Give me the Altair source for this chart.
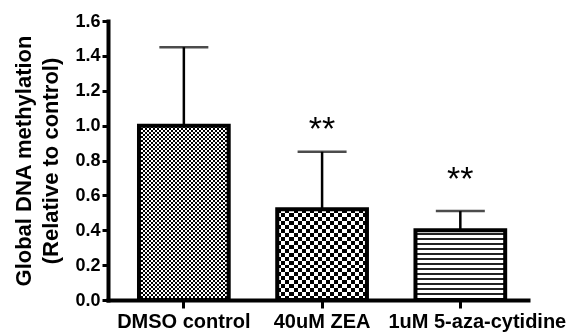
import altair as alt
import pandas as pd

# ---- data ----
categories = ["DMSO control", "40uM ZEA", "1uM 5-aza-cytidine"]
means = [1.00, 0.52, 0.40]
sem_upper = [0.45, 0.33, 0.11]
star_text = ["", "**", "**"]
star_level = [None, 0.92, 0.63]
y_ticks = [0.0, 0.2, 0.4, 0.6, 0.8, 1.0, 1.2, 1.4, 1.6]

df = pd.DataFrame({
    "cat": categories,
    "mean": means,
    "upper": [m + e for m, e in zip(means, sem_upper)],
    "star": star_text,
    "star_y": star_level,
})

W, H = 420, 279
FONT = "Liberation Sans"


def stripes(n, c1, c2, along_x, duty=0.5):
    stops = []
    if duty == 0.5:
        for i in range(n):
            c = c1 if i % 2 == 0 else c2
            stops.append(alt.GradientStop(offset=i / n, color=c))
            stops.append(alt.GradientStop(offset=(i + 1) / n, color=c))
    else:
        for i in range(n):
            a = i / n
            b = (i + duty) / n
            e = (i + 1) / n
            stops += [alt.GradientStop(offset=a, color=c1), alt.GradientStop(offset=b, color=c1),
                      alt.GradientStop(offset=b, color=c2), alt.GradientStop(offset=e, color=c2)]
    if along_x:
        return alt.LinearGradient(gradient="linear", stops=stops, x1=0, y1=0, x2=1, y2=0)
    return alt.LinearGradient(gradient="linear", stops=stops, x1=0, y1=0, x2=0, y2=1)


x_enc = alt.X(
    "cat:N", sort=categories, title=None,
    scale=alt.Scale(paddingInner=0.351, paddingOuter=0.1946, align=0.576),
    axis=alt.Axis(
        labelAngle=0, labelFontSize=20, labelFontWeight="bold", labelColor="black",
        labelFont=FONT, labelPadding=3, tickSize=8, tickWidth=3, tickColor="black",
        domainWidth=4, domainColor="black", domainCap="square", labelOverlap=False,
        labelOffset={"condition": {"test": "datum.value == '1uM 5-aza-cytidine'", "value": 17}, "value": 0},
    ),
)

y_scale = alt.Scale(domain=[0, 1.6], nice=False, zero=True)
y_axis = alt.Axis(
    values=y_ticks, format=".1f", grid=False, labelOverlap=False, tickCount=9,
    title=["Global DNA methylation", "(Relative to control)"],
    titleFontSize=22, titleFontWeight="bold", titleFont=FONT, titleColor="black",
    titleLineHeight=27, titlePadding=12,
    labelFontSize=18, labelFontWeight="bold", labelFont=FONT, labelColor="black",
    labelPadding=2, tickSize=6, tickWidth=3, tickColor="black",
    domainWidth=4, domainColor="black", domainCap="square",
)


def yq(field):
    return alt.Y(field, type="quantitative", scale=y_scale, axis=y_axis)


base = alt.Chart(df).encode(x=x_enc)

# pattern geometry (cells in pixels)
px_per_unit = H / 1.6
bar_px = 89.7

d_cols = round(bar_px / 2)
d_rows = round(means[0] * px_per_unit / 2)
z_cols = round(bar_px / 4)
z_rows = round(means[1] * px_per_unit / 4)
a_lines = round(means[2] * px_per_unit / 5)

layers = []
for cat, ncol, nrow in [(categories[0], d_cols, d_rows), (categories[1], z_cols, z_rows)]:
    f = base.transform_filter(alt.datum.cat == cat)
    layers.append(f.mark_bar(fill=stripes(ncol, "black", "white", True)).encode(y=yq("mean")))
    layers.append(f.mark_bar(fill=stripes(nrow, "black", "white", False), blend="difference").encode(y=yq("mean")))

fa = base.transform_filter(alt.datum.cat == categories[2])
layers.append(fa.mark_bar(fill=stripes(a_lines, "white", "#222222", False, duty=0.6)).encode(y=yq("mean")))

outline = base.mark_bar(fillOpacity=0, stroke="black", strokeWidth=4).encode(y=yq("mean"))
err_line = base.mark_rule(color="black", strokeWidth=2.5).encode(y=yq("mean"), y2=alt.Y2("upper"))
err_cap = base.mark_tick(color="black", thickness=2.5, size=49).encode(y=yq("upper"))
stars = base.transform_filter(alt.datum.star != "").mark_text(
    fontSize=34, font=FONT, color="black", baseline="alphabetic", align="center"
).encode(y=yq("star_y"), text="star:N")

chart = alt.layer(*layers, err_line, err_cap, outline, stars).properties(
    width=W, height=H,
    padding={"left": 108, "top": 21, "right": 46, "bottom": 32},
    autosize="none",
    background="white",
).configure(font=FONT).configure_view(stroke=None)

chart.save("out.html", embed_options={"renderer": "svg", "actions": False})
